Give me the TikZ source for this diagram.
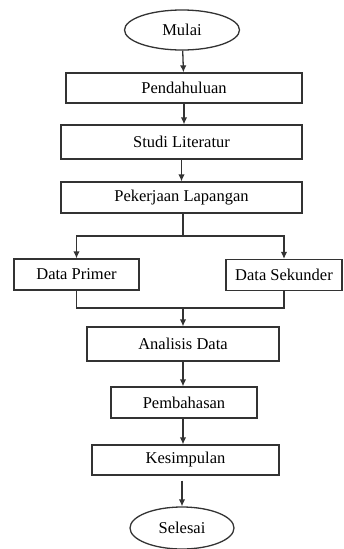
\documentclass[tikz,border=0pt]{standalone}
\usepackage{fontspec}
\setmainfont{Liberation Serif}
\usetikzlibrary{shapes.geometric,arrows.meta}
\begin{document}
\begin{tikzpicture}[x=1pt,y=-1pt,
  kotak/.style={draw=black!80,line width=1.3pt,rectangle,inner sep=0pt,font=\fontsize{16.5}{18}\selectfont},
  oval/.style={draw=black!80,line width=1.3pt,ellipse,inner sep=0pt,font=\fontsize{16.5}{18}\selectfont},
  garis/.style={draw=black!80,line width=1.3pt},
  panah/.style={garis,-{Latex[length=7pt,width=6.5pt]}}]
\useasboundingbox (0,0) rectangle (343,549);
% terminal dan proses
\node[oval,minimum width=115pt,minimum height=40pt] (mulai) at (182,30) {Mulai};
\node[kotak,minimum width=236pt,minimum height=30pt] (pendahuluan) at (184,88) {Pendahuluan};
\node[kotak,minimum width=241pt,minimum height=34pt] (studi) at (181.5,142) {Studi Literatur};
\node[kotak,minimum width=241pt,minimum height=31pt] (pekerjaan) at (181.5,197.5) {Pekerjaan Lapangan};
\node[kotak,minimum width=125pt,minimum height=31pt] (primer) at (76.5,274.5) {Data Primer};
\node[kotak,minimum width=116pt,minimum height=31pt] (sekunder) at (284,275) {Data Sekunder};
\node[kotak,minimum width=192pt,minimum height=34pt] (analisis) at (183,344) {Analisis Data};
\node[kotak,minimum width=146pt,minimum height=31pt] (pembahasan) at (184,402.5) {Pembahasan};
\node[kotak,minimum width=187pt,minimum height=30pt] (kesimpulan) at (185.5,460) {Kesimpulan};
\node[oval,minimum width=104pt,minimum height=42pt] (selesai) at (182,528) {Selesai};
% titik cabang
\coordinate (pisah) at (183,236);
\coordinate (gabung) at (183,308);
% penghubung
\draw[panah] (mulai) -- (pendahuluan);
\draw[panah] (pendahuluan) -- (pendahuluan.south |- studi.north);
\draw[panah] (studi) -- (studi.south |- pekerjaan.north);
\draw[garis] (pekerjaan.south -| pisah) -- (pisah);
\draw[panah] (pisah) -| (primer.north);
\draw[panah] (pisah) -| (sekunder.north);
\draw[garis] (primer.south) |- (gabung) -| (sekunder.south);
\draw[panah] (gabung) -- (analisis.north -| gabung);
\draw[panah] (analisis.south -| gabung) -- (pembahasan.north -| gabung);
\draw[panah] (pembahasan.south -| gabung) -- (kesimpulan.north -| gabung);
\draw[panah,shorten <=5pt] (kesimpulan.south -| selesai) -- (selesai.north);
\end{tikzpicture}
\end{document}
